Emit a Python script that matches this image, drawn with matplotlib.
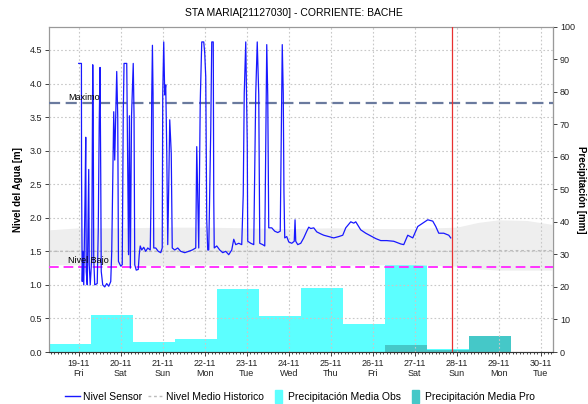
import numpy as np
import pandas as pd
import matplotlib
matplotlib.use("Agg")
import matplotlib.pyplot as plt
import matplotlib.dates as mdates
import matplotlib.patches as mpatches
from matplotlib.lines import Line2D
from matplotlib.legend_handler import HandlerPatch

plt.rcParams['font.family'] = ['Liberation Sans', 'DejaVu Sans']

# ---- data ----
base = pd.Timestamp("2021-11-19 00:00")

# sensor level (hours after 19-11 00:00, metres)
sensor_hours = [0.0, 1.54, 1.6, 2.0, 2.4, 2.86, 3.6, 4.0, 4.29, 4.86, 5.71, 6.0, 6.57, 7.43,
                8.0, 8.29, 8.57, 9.14, 10.57, 11.14, 11.71, 12.17, 12.57, 12.86, 13.71, 14.86,
                16.0, 17.14, 18.29, 18.86, 19.43, 20.0, 20.57, 21.14, 21.71, 22.29, 22.69, 24.0,
                24.86, 25.43, 25.89, 27.43, 28.0, 28.46, 28.97, 29.49, 30.17, 31.14, 31.6, 32.0,
                32.86, 34.0, 34.57, 35.14, 36.0, 37.14, 38.29, 39.43, 40.86, 41.31, 41.71, 42.11,
                42.46, 42.86, 44.0, 45.43, 46.86, 47.71, 48.0, 48.57, 49.14, 49.71, 50.29, 50.86,
                51.43, 52.0, 52.86, 53.43, 54.86, 56.57, 58.29, 60.57, 62.86, 64.86, 66.86, 67.43,
                68.0, 68.57, 69.43, 70.29, 71.43, 72.0, 72.57, 73.14, 73.71, 74.29, 75.43, 76.0,
                76.86, 77.14, 77.43, 78.86, 80.57, 82.29, 84.0, 85.71, 87.43, 88.57, 89.71, 91.43,
                93.14, 94.0, 94.57, 95.43, 96.29, 96.57, 98.29, 100.0, 101.14, 102.0, 102.86,
                103.43, 105.14, 106.29, 106.86, 107.43, 108.0, 108.57, 110.29, 112.0, 113.71,
                115.14, 115.71, 116.29, 116.86, 117.26, 117.71, 118.86, 120.0, 121.71, 123.14,
                123.6, 124.0, 125.14, 126.86, 128.57, 130.29, 131.43, 132.57, 134.29, 136.0,
                138.29, 140.0, 142.86, 145.71, 148.57, 150.86, 152.57, 155.43, 157.14, 158.29,
                161.14, 164.0, 166.86, 169.71, 172.57, 176.0, 180.0, 184.0, 185.71, 188.0,
                190.86, 193.71, 196.57, 199.43, 202.29, 204.0, 205.71, 208.57, 211.43, 212.57]
sensor_level = [4.30, 4.30, 2.67, 1.05, 1.50, 1.00, 2.30, 3.20, 1.20, 1.00, 2.72, 1.30, 1.00, 1.40,
                4.28, 3.45, 1.40, 1.00, 1.02, 1.80, 3.42, 4.24, 2.65, 1.20, 1.00, 0.97,
                1.02, 0.98, 1.05, 1.50, 2.60, 3.58, 2.86, 3.50, 4.18, 3.50, 1.35, 1.28,
                1.30, 3.53, 4.30, 4.30, 2.75, 1.45, 3.52, 1.25, 3.52, 4.30, 3.53, 1.30,
                1.22, 1.23, 1.45, 1.58, 1.52, 1.56, 1.50, 1.55, 1.52, 2.30, 3.80, 4.57,
                3.85, 1.55, 1.55, 1.50, 1.48, 1.55, 3.83, 4.62, 3.83, 3.98, 3.00, 1.60,
                2.48, 3.46, 2.96, 1.55, 1.52, 1.55, 1.50, 1.48, 1.50, 1.52, 1.55, 3.06,
                2.27, 1.55, 3.73, 4.62, 4.62, 4.45, 4.10, 1.97, 1.52, 1.52, 3.30, 4.62,
                4.62, 2.30, 1.55, 1.58, 1.52, 1.48, 1.50, 1.45, 1.52, 1.68, 1.60, 1.62,
                1.60, 2.35, 3.85, 4.62, 3.10, 1.65, 1.62, 1.60, 3.85, 4.62, 3.83,
                1.62, 1.60, 1.58, 3.10, 4.58, 3.82, 1.85, 1.85, 1.80, 1.78,
                1.80, 3.13, 4.58, 3.85, 2.38, 1.70, 1.72, 1.64, 1.62, 1.65,
                1.97, 1.65, 1.60, 1.62, 1.70, 1.80, 1.86, 1.84, 1.85, 1.79,
                1.76, 1.74, 1.72, 1.70, 1.72, 1.74, 1.85, 1.94, 1.92, 1.94,
                1.82, 1.77, 1.73, 1.69, 1.66, 1.66, 1.65, 1.61, 1.60, 1.74,
                1.70, 1.87, 1.92, 1.97, 1.95, 1.87, 1.77, 1.77, 1.74, 1.70]

# historic band and mean (hours after 19-11 00:00, metres)
hist_hours = [-17, 0, 24, 48, 72, 96, 120, 144, 168, 192, 216, 228, 240, 256, 271]
hist_upper = [1.82, 1.85, 1.85, 1.86, 1.86, 1.85, 1.84, 1.85, 1.84, 1.84, 1.86, 1.93, 1.97, 1.96, 1.90]
hist_lower = [1.30, 1.30, 1.30, 1.29, 1.30, 1.30, 1.30, 1.29, 1.30, 1.30, 1.28, 1.24, 1.22, 1.22, 1.22]
hist_mean = [1.50, 1.50, 1.50, 1.50, 1.50, 1.50, 1.50, 1.50, 1.50, 1.50, 1.50, 1.51, 1.51, 1.51, 1.51]

nivel_maximo = 3.71
nivel_bajo = 1.27

# daily precipitation (07:00 to 07:00), mm
precip_start = "2021-11-18 07:00"
precip_obs = [2.5, 11.4, 3.0, 4.0, 19.5, 11.2, 19.8, 8.7, 27.5, 0.9, 0.0, 0.0]
precip_pro = [0.0, 0.0, 0.0, 0.0, 0.0, 0.0, 0.0, 0.0, 2.2, 0.5, 5.0, 0.0]

now_time = pd.Timestamp("2021-11-27 21:00")

title = "STA MARIA[21127030] - CORRIENTE: BACHE"

# ---- plot ----
sensor_t = base + pd.to_timedelta(sensor_hours, unit="h")
hist_t = base + pd.to_timedelta(hist_hours, unit="h")
days = pd.date_range(precip_start, periods=len(precip_obs), freq="D")

fig = plt.figure(figsize=(5.88, 4.04), dpi=100)
ax = fig.add_axes([0.0833, 0.1287, 0.8572, 0.8057])
ax2 = ax.twinx()
ax.set_zorder(ax2.get_zorder() + 1)
ax.patch.set_visible(False)

obs_col = "#5CFFFF"
pro_col = "#45C8C8"
ax2.bar(days, precip_obs, width=1.0, align="edge", color=obs_col, linewidth=0)
ax2.bar(days, precip_pro, width=1.0, align="edge", color=pro_col, linewidth=0)
ax2.set_ylim(0, 100)
ax2.set_yticks(np.arange(0, 101, 10))

ax.fill_between(hist_t, hist_lower, hist_upper, color="#EEEEEE", linewidth=0, zorder=1)
ax.plot(hist_t, hist_mean, color="#BBBBBB", linestyle=(0, (2, 2)), lw=1.0, zorder=2)
ax.axhline(nivel_maximo, color="#6A7A9E", linestyle=(0, (5, 2.5)), lw=1.6, zorder=3)
ax.axhline(nivel_bajo, color="#FF33FF", linestyle=(0, (5, 2.5)), lw=1.4, zorder=3)
ax.plot(sensor_t, sensor_level, color="#1818FF", lw=0.9, zorder=4)
ax.axvline(now_time, color="#E83030", lw=0.9, zorder=5)

x0 = pd.Timestamp(precip_start)
ax.set_xlim(x0, x0 + pd.Timedelta(days=12))
ax.set_ylim(0, 4.85)
ax.set_yticks(np.arange(0, 4.51, 0.5))
ax.yaxis.set_major_formatter(matplotlib.ticker.FormatStrFormatter("%.1f"))

ax.text(x0 + pd.Timedelta(hours=11), nivel_maximo + 0.02, "Maximo", fontsize=6.5, va="bottom", zorder=6)
ax.text(x0 + pd.Timedelta(hours=11), nivel_bajo + 0.02, "Nivel Bajo", fontsize=6.5, va="bottom", zorder=6)

ax.xaxis.set_major_locator(mdates.DayLocator())
ax.xaxis.set_major_formatter(mdates.DateFormatter("%d-%m\n%a"))
ax.xaxis.set_minor_locator(mdates.HourLocator(byhour=range(0, 24, 2)))
ax.grid(True, which="major", color="#C8C8C8", linestyle=(0, (1.5, 2)), lw=0.8)
ax.grid(False, which="minor")

for a in (ax, ax2):
    a.tick_params(labelsize=6.5, length=3, width=0.6, colors="#222222", pad=2)
    for s in a.spines.values():
        s.set_color("#999999")
        s.set_linewidth(0.8)
ax.tick_params(axis="x", which="minor", length=1.5, width=0.5)
ax.spines["bottom"].set_color("#333333")
ax2.spines["right"].set_color("#555555")

ax.set_ylabel("Nivel del Agua [m]", fontsize=7, fontweight="bold", labelpad=5)
ax2.set_ylabel("Precipitación [mm]", fontsize=7, fontweight="bold", rotation=270, labelpad=8)
fig.text(0.5, 0.967, title, ha="center", va="center", fontsize=7.5)


def narrow_patch(legend, orig_handle, xdescent, ydescent, width, height, fontsize):
    return mpatches.Rectangle((width * 0.35 - xdescent, -ydescent - 2), width * 0.45, height + 4)


handles = [Line2D([], [], color="#1818FF", lw=1.0),
           Line2D([], [], color="#BBBBBB", lw=1.0, linestyle=(0, (2, 2))),
           mpatches.Patch(color=obs_col),
           mpatches.Patch(color=pro_col)]
labels = ["Nivel Sensor", "Nivel Medio Historico", "Precipitación Media Obs", "Precipitación Media Pro"]
fig.legend(handles, labels, loc="center", bbox_to_anchor=(0.51, 0.018), ncol=4, frameon=False,
           fontsize=7.5, handlelength=1.4, handletextpad=0.3, columnspacing=0.6,
           handler_map={mpatches.Patch: HandlerPatch(patch_func=narrow_patch)})

fig.savefig("out.png", dpi=100)
